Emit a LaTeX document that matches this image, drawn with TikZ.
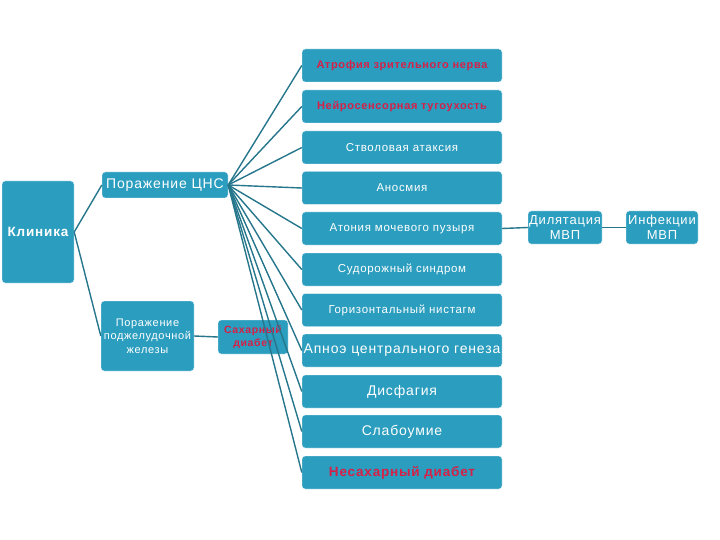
\documentclass[tikz,border=0pt]{standalone}
\usepackage{fontspec}
\setmainfont[LetterSpace=6]{Liberation Sans}
\usepackage{xcolor}
\usepackage{tikz}
\definecolor{boxfill}{RGB}{43,157,190}
\definecolor{linkcol}{RGB}{38,118,140}
\definecolor{redtxt}{RGB}{214,32,72}

\begin{document}
\begin{tikzpicture}
[x=1pt,y=-1pt,
item/.style={rectangle,rounded corners=3pt,draw=white,fill=boxfill,text=white,
  minimum width=200pt,minimum height=33pt,inner sep=1pt,align=center},
hot/.style={item,text=redtxt,font=\bfseries\fontsize{11}{13}\selectfont},
small/.style={item,font=\fontsize{11.5}{12.5}\selectfont},
big/.style={item,font=\fontsize{14}{15}\selectfont},
link/.style={draw=linkcol,line width=1.4pt}]
\useasboundingbox (0,0) rectangle (720,540);
% left part
\node at (38,232) [item,minimum width=72pt,minimum height=102pt,font=\bfseries\fontsize{13.5}{15}\selectfont] (clin) {Клиника};
\node at (165,185) [big,minimum width=126pt,minimum height=26pt,inner sep=0pt] (cns) {Поражение ЦНС};
\node at (147.5,336) [small,minimum width=93pt,minimum height=70pt,inner sep=0pt,font=\fontsize{11}{13.5}\selectfont] (panc) {Поражение\\поджелудочной\\железы};
\node at (253,337) [hot,minimum width=70pt,minimum height=34pt,inner sep=0pt,font=\bfseries\fontsize{10.5}{12.5}\selectfont] (diab) {Сахарный\\диабет};
% right column
\node at (402,65.5) [hot] (atr) {Атрофия зрительного нерва};
\node at (402,106.5) [hot] (neu) {Нейросенсорная тугоухость};
\node at (402,147.5) [small] (atx) {Стволовая атаксия};
\node at (402,188) [small] (ans) {Аносмия};
\node at (402,228.5) [small] (aton) {Атония мочевого пузыря};
\node at (402,269.5) [small] (sud) {Судорожный синдром};
\node at (402,310) [small] (nys) {Горизонтальный нистагм};
\node at (402,350.5) [big] (apn) {Апноэ центрального генеза};
\node at (402,391.5) [big] (dys) {Дисфагия};
\node at (402,431.5) [big] (dem) {Слабоумие};
\node at (402,472.5) [hot,font=\bfseries\fontsize{13.5}{15}\selectfont] (din) {Несахарный диабет};
\node at (565,227.5) [big,minimum width=74pt,inner sep=0pt,font=\fontsize{13}{15.5}\selectfont] (dil) {Дилятация\\МВП};
\node at (662,227.5) [big,minimum width=72pt,inner sep=0pt,font=\fontsize{13}{15.5}\selectfont] (inf) {Инфекции\\МВП};
% links
\draw[link] (clin.east) -- (cns.west);
\draw[link] (clin.east) -- (panc.west);
\draw[link] (panc.east) -- (diab.west);
\foreach \t in {atr,neu,atx,ans,aton,sud,nys,apn,dys,dem,din}
  \draw[link] (cns.east) -- (\t.west);
\draw[link] (aton.east) -- (dil.west);
\draw[link] (dil.east) -- (inf.west);
\end{tikzpicture}
\end{document}
